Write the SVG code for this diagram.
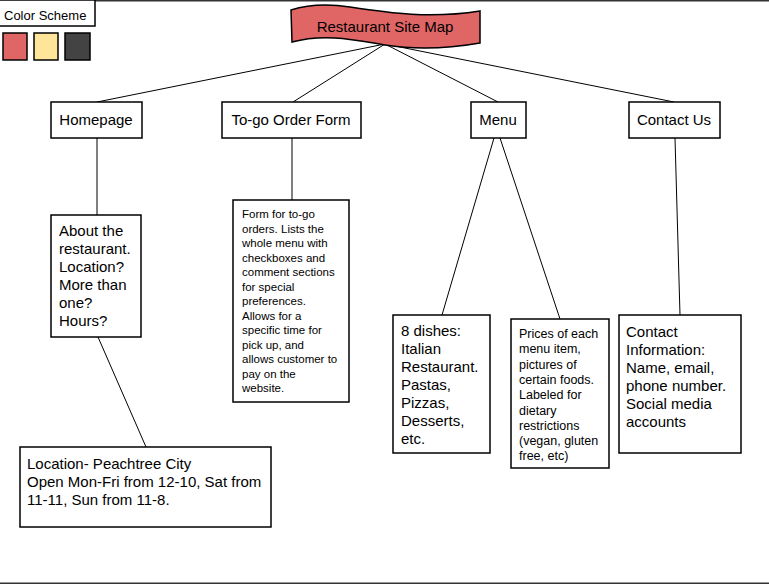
<svg xmlns="http://www.w3.org/2000/svg" width="769" height="584" viewBox="0 0 769 584">
<style>
.box{fill:#fff;stroke:#000;stroke-width:1.5}
.t{font-family:"Liberation Sans",Arial,sans-serif;fill:#000}
.l15{font-size:15px}
.l11{font-size:11.5px}
.l12{font-size:12.5px}
.conn line{stroke:#000;stroke-width:1}
.sw{stroke:#000;stroke-width:1.5}
</style>
<rect x="0" y="0" width="769" height="584" fill="#fff"/>
<rect x="0" y="0" width="769" height="1.5" fill="#333"/>
<rect x="0" y="582.5" width="769" height="1.5" fill="#333"/>
<g id="color-scheme">
<rect x="-2" y="0" width="97" height="26" class="box"/>
<text x="4" y="20" class="t" font-size="13">Color Scheme</text>
<rect x="3" y="33" width="24" height="27" fill="#e06666" class="sw"/>
<rect x="34" y="33" width="24" height="27" fill="#ffe599" class="sw"/>
<rect x="65" y="33" width="25" height="27" fill="#434343" class="sw"/>
</g>
<g class="conn" id="connectors">
<line x1="385" y1="44" x2="97" y2="102"/>
<line x1="385" y1="44" x2="293" y2="102"/>
<line x1="385" y1="44" x2="498" y2="102"/>
<line x1="385" y1="44" x2="674" y2="102"/>
<line x1="97" y1="138" x2="97" y2="215"/>
<line x1="98" y1="337" x2="146" y2="447"/>
<line x1="292" y1="138" x2="292" y2="200"/>
<line x1="494" y1="138" x2="442" y2="315"/>
<line x1="500" y1="138" x2="560" y2="319"/>
<line x1="675" y1="138" x2="680" y2="315"/>
</g>
<g id="title">
<path d="M291,10 C310,4 330,4 350,7 C390,13 430,19 480,11 L480,43 C440,50 410,49 385,45 C355,40 325,33 292,42 Z" fill="#e06666" stroke="#000" stroke-width="1.5"/>
<text x="385" y="32" class="t" font-size="15" text-anchor="middle">Restaurant Site Map</text>
</g>
<g id="homepage">
<rect x="51" y="102" width="91" height="36" class="box"/>
<text x="96" y="125" class="t l15" text-anchor="middle">Homepage</text>
</g>
<g id="togo">
<rect x="222" y="102" width="139" height="36" class="box"/>
<text x="291" y="125" class="t l15" text-anchor="middle">To-go Order Form</text>
</g>
<g id="menu">
<rect x="471" y="102" width="55" height="36" class="box"/>
<text x="498" y="125" class="t l15" text-anchor="middle">Menu</text>
</g>
<g id="contact">
<rect x="629" y="102" width="91" height="36" class="box"/>
<text x="674" y="125" class="t l15" text-anchor="middle">Contact Us</text>
</g>
<g id="about">
<rect x="51" y="215" width="90" height="122" class="box"/>
<text class="t l15"><tspan x="59" y="236">About the</tspan><tspan x="59" y="254">restaurant.</tspan><tspan x="59" y="272">Location?</tspan><tspan x="59" y="290">More than</tspan><tspan x="59" y="308">one?</tspan><tspan x="59" y="326">Hours?</tspan></text>
</g>
<g id="location">
<rect x="20" y="447" width="251" height="80" class="box"/>
<text class="t l15"><tspan x="27" y="469">Location- Peachtree City</tspan><tspan x="27" y="487">Open Mon-Fri from 12-10, Sat from</tspan><tspan x="27" y="505">11-11, Sun from 11-8.</tspan></text>
</g>
<g id="form">
<rect x="233" y="200" width="116" height="202" class="box"/>
<text class="t l11"><tspan x="242" y="218">Form for to-go</tspan><tspan x="242" y="232.5">orders. Lists the</tspan><tspan x="242" y="247">whole menu with</tspan><tspan x="242" y="261.5">checkboxes and</tspan><tspan x="242" y="276">comment sections</tspan><tspan x="242" y="290.5">for special</tspan><tspan x="242" y="305">preferences.</tspan><tspan x="242" y="319.5">Allows for a</tspan><tspan x="242" y="334">specific time for</tspan><tspan x="242" y="348.5">pick up, and</tspan><tspan x="242" y="363">allows customer to</tspan><tspan x="242" y="377.5">pay on the</tspan><tspan x="242" y="392">website.</tspan></text>
</g>
<g id="dishes">
<rect x="393" y="315" width="97" height="138" class="box"/>
<text class="t l15"><tspan x="401" y="336">8 dishes:</tspan><tspan x="401" y="354">Italian</tspan><tspan x="401" y="372">Restaurant.</tspan><tspan x="401" y="390">Pastas,</tspan><tspan x="401" y="408">Pizzas,</tspan><tspan x="401" y="426">Desserts,</tspan><tspan x="401" y="444">etc.</tspan></text>
</g>
<g id="prices">
<rect x="511" y="319" width="98" height="149" class="box"/>
<text class="t l12"><tspan x="519" y="338">Prices of each</tspan><tspan x="519" y="353.3">menu item,</tspan><tspan x="519" y="368.6">pictures of</tspan><tspan x="519" y="383.9">certain foods.</tspan><tspan x="519" y="399.2">Labeled for</tspan><tspan x="519" y="414.5">dietary</tspan><tspan x="519" y="429.8">restrictions</tspan><tspan x="519" y="445.1">(vegan, gluten</tspan><tspan x="519" y="460.4">free, etc)</tspan></text>
</g>
<g id="contact-info">
<rect x="619" y="315" width="122" height="138" class="box"/>
<text class="t l15"><tspan x="626" y="337">Contact</tspan><tspan x="626" y="355">Information:</tspan><tspan x="626" y="373">Name, email,</tspan><tspan x="626" y="391">phone number.</tspan><tspan x="626" y="409">Social media</tspan><tspan x="626" y="427">accounts</tspan></text>
</g>
</svg>
